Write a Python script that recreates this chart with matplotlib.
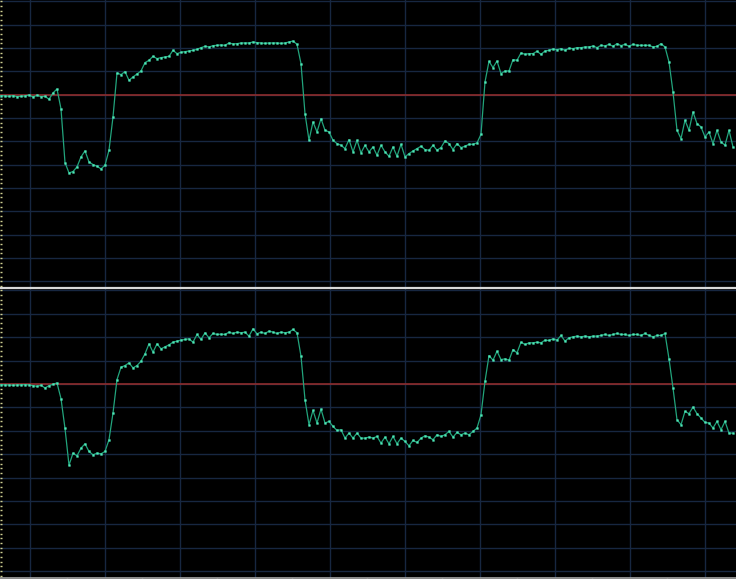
import numpy as np
import matplotlib
matplotlib.use("Agg")
import matplotlib.pyplot as plt
from matplotlib.lines import Line2D

# sample values (arbitrary units, one grid division = 70)
top = [-3, -4, -5, -3, -6, -5, -4, -1, -7, -2, -6, -5, -14, 5, 17,
       -43, -204, -235, -231, -217, -187, -169, -202, -210, -215, -223, -212, -167, -67,
       65, 60, 69, 43, 53, 62, 71, 96, 103, 115, 108, 111, 113, 115, 133, 123, 127, 129,
       131, 133, 136, 141, 145, 143, 147, 148, 149, 148, 155, 152, 153, 155, 155, 155,
       158, 156, 155, 154, 155, 155, 155, 154, 155, 158, 161, 151, 93,
       -57, -137, -82, -112, -72, -107, -112, -137, -147, -152, -162, -135, -172, -137,
       -175, -152, -172, -157, -182, -152, -172, -185, -157, -185, -149, -187, -177, -169,
       -162, -155, -165, -167, -152, -167, -159, -139, -147, -165, -147, -159, -155, -149,
       -149, -145, -119,
       38, 100, 81, 101, 63, 71, 71, 105, 103, 125, 121, 123, 123, 130, 121, 131, 133,
       137, 135, 138, 133, 139, 138, 141, 141, 143, 143, 146, 141, 148, 146, 151, 145,
       153, 147, 151, 145, 151, 148, 148, 148, 148, 143, 145, 153, 143, 98,
       8, -107, -132, -77, -107, -52, -87, -97, -127, -112, -147, -107, -142, -152, -107, -157]

bottom = [-2, -3, -3, -4, -3, -3, -2, -3, -5, -7, -4, -12, -5, -1, 3,
          -44, -133, -243, -207, -215, -192, -179, -202, -212, -207, -209, -202, -167, -87,
          13, 50, 55, 63, 48, 55, 68, 90, 120, 95, 120, 105, 111, 117, 125, 128, 131, 133,
          135, 125, 148, 133, 153, 138, 151, 148, 149, 148, 155, 151, 155, 153, 155, 143,
          165, 150, 155, 151, 158, 155, 151, 155, 153, 155, 163, 153, 83,
          -47, -122, -79, -117, -75, -117, -112, -127, -139, -137, -162, -147, -162, -147,
          -162, -162, -159, -162, -157, -177, -159, -179, -157, -179, -162, -172, -185, -169,
          -175, -162, -155, -159, -167, -152, -157, -152, -142, -159, -145, -152, -147, -152,
          -142, -132, -92,
          8, 85, 71, 98, 73, 75, 71, 103, 93, 125, 118, 123, 123, 125, 123, 131, 130, 135,
          131, 145, 128, 138, 141, 143, 141, 143, 141, 143, 143, 145, 148, 145, 148, 151,
          148, 148, 145, 148, 148, 145, 151, 145, 141, 145, 145, 151, 75,
          -12, -107, -122, -82, -89, -69, -89, -102, -115, -117, -132, -112, -137, -112, -147, -147]

BG = "#000000"
GRID = "#172741"
ZERO = "#8e2c2c"
LINE = "#22a47c"
DOT = "#4fe8b8"

fig = plt.figure(figsize=(7.36, 5.79), dpi=100, facecolor=BG)
H = 579.0
ax1 = fig.add_axes([0, (H - 287.5) / H, 1, 287.5 / H])
ax2 = fig.add_axes([0, (H - 577.5) / H, 1, (577.5 - 289) / H])

for ax, vals in ((ax1, top), (ax2, bottom)):
    ax.set_facecolor(BG)
    x = np.arange(len(vals))
    ax.set_xlim(-0.25, 183.75)
    ax.set_ylim(-579, 284)
    ax.set_xticks(np.arange(7.125, 184, 18.75))
    ax.set_yticks(np.arange(-560, 284, 70))
    ax.grid(True, color=GRID, lw=1.0)
    ax.set_axisbelow(True)
    ax.axhline(0, color=ZERO, lw=1.2, zorder=2)
    ax.plot(x, vals, color=LINE, lw=0.9, zorder=3)
    ax.plot(x, vals, ls="none", marker="s", ms=1.3, mfc=DOT, mec=DOT, mew=0.3, zorder=4)
    ax.set_yticks(np.arange(-574, 284, 14), minor=True)
    ax.tick_params(axis="y", which="both", direction="in", length=1.5, width=1,
                   color="#cfcf90", labelleft=False, pad=0)
    ax.tick_params(axis="x", which="both", labelbottom=False, length=0)
    for s in ax.spines.values():
        s.set_visible(False)

ax2.spines["bottom"].set_visible(True)
ax2.spines["bottom"].set_color("#a8a8a8")
ax2.spines["bottom"].set_linewidth(1.2)
ax2.set_xticks(np.arange(7.125, 184, 9.375), minor=True)
ax2.tick_params(axis="x", which="minor", direction="out", length=2, width=1, color="#a8a8a8")

# separator between the two channels
fig.add_artist(Line2D([0, 1], [(H - 288.2) / H] * 2, transform=fig.transFigure,
                      color="#d8d8d8", lw=1.6))

fig.savefig("out.png", dpi=100, facecolor=BG)
